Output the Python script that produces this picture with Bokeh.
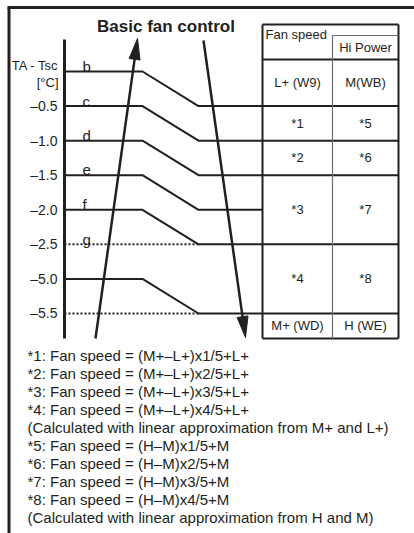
import numpy as np
from bokeh.plotting import figure
from bokeh.models import Range1d
from bokeh.core.properties import value
from bokeh.embed import file_html
from bokeh.resources import INLINE

# ---------------- data ----------------
level_letters = ["b", "c", "d", "e", "f", "g", "", ""]
tick_labels = ["", "–0.5", "–1.0", "–1.5", "–2.0", "–2.5", "–5.0", "–5.5"]
dotted_levels = [5, 7]                 # levels drawn dotted (no step)
drop_levels = [0, 1, 2, 3, 4, 6]       # level i steps down to level i+1
row_bounds = [1, 2, 3, 5, 7]           # levels that are also table row lines
col1_labels = ["L+ (W9)", "*1", "*2", "*3", "*4", "M+ (WD)"]
col2_labels = ["M(WB)", "*5", "*6", "*7", "*8", "H (WE)"]
footnotes = [
    "*1: Fan speed = (M+–L+)x1/5+L+",
    "*2: Fan speed = (M+–L+)x2/5+L+",
    "*3: Fan speed = (M+–L+)x3/5+L+",
    "*4: Fan speed = (M+–L+)x4/5+L+",
    "(Calculated with linear approximation from M+ and L+)",
    "*5: Fan speed = (H–M)x1/5+M",
    "*6: Fan speed = (H–M)x2/5+M",
    "*7: Fan speed = (H–M)x3/5+M",
    "*8: Fan speed = (H–M)x4/5+M",
    "(Calculated with linear approximation from H and M)",
]

# ---------------- layout ----------------
TOP_PX, STEP = 71.0, 34.57
def py(ys):
    return (ys - TOP_PX) / STEP

AXIS_X, KNEE1, KNEE2 = 64, 142, 198
TL, TM, TR = 262, 332, 398
T_TOP, T_HP, T_HEAD, T_BOT = py(24), py(35), py(59), py(338)
INK = "#231f20"
FONT = value("Liberation Sans")

p = figure(width=414, height=533, x_range=Range1d(0, 414),
           y_range=Range1d(py(533), py(0)), x_axis_type=None, y_axis_type=None,
           toolbar_location=None, output_backend="svg", min_border=0,
           outline_line_color=None)
p.grid.visible = False

# outer frame
p.line([8.5, 8.5], [py(7), py(533)], line_color=INK, line_width=3)
p.line([7, 414], [py(7), py(7)], line_color=INK, line_width=3)

# axis
p.line([AXIS_X, AXIS_X], [py(39), py(338)], line_color=INK, line_width=3)

# level step lines
xs, ys = [], []
for i in drop_levels:
    end = TR if (i + 1) in row_bounds else TL
    xs.append([AXIS_X, KNEE1, KNEE2, end])
    ys.append([i, i, i + 1, i + 1])
p.multi_line(xs, ys, line_color=INK, line_width=2)
for i in dotted_levels:
    p.line([AXIS_X, KNEE2], [i, i], line_color=INK, line_width=2, line_dash="2 2")

# tick labels
tk = [i for i, t in enumerate(tick_labels) if t]
p.text([AXIS_X - 7] * len(tk), tk, text=[tick_labels[i] for i in tk],
       text_align="right", text_baseline="middle", text_font=FONT,
       text_font_size="14px", text_color=INK)
p.text([AXIS_X - 6] * 2, [py(65), py(82)], text=["TA - Tsc", "[°C]"],
       text_align="right", text_baseline="middle", text_font=FONT,
       text_font_size="13px", text_color=INK)
lt = [i for i, t in enumerate(level_letters) if t]
p.text([82] * len(lt), [py(TOP_PX + STEP * i - 5) for i in lt],
       text=[level_letters[i] for i in lt],
       text_align="left", text_baseline="alphabetic", text_font=FONT,
       text_font_size="15px", text_color=INK)

# title
p.text([165.5], [py(26)], text=["Basic fan control"], text_align="center",
       text_baseline="middle", text_font=FONT, text_font_size="17px",
       text_font_style="bold", text_color=INK)

# table frame
p.multi_line([[TL, TL], [TR, TR], [TL, TR], [TL, TR], [TL, TR]],
             [[T_TOP, T_BOT], [T_TOP, T_BOT], [T_TOP, T_TOP], [T_HEAD, T_HEAD], [T_BOT, T_BOT]],
             line_color=INK, line_width=2)
p.multi_line([[TM, TM], [TM, TR]], [[T_HP, T_BOT], [T_HP, T_HP]],
             line_color="#6d6d6d", line_width=1.2)
p.text([TL + 3], [py(34)], text=["Fan speed"], text_align="left",
       text_baseline="middle", text_font=FONT, text_font_size="13px", text_color=INK)
p.text([(TM + TR) / 2], [(T_HP + T_HEAD) / 2], text=["Hi Power"], text_align="center",
       text_baseline="middle", text_font=FONT, text_font_size="13px", text_color=INK)
edges = [T_HEAD] + row_bounds + [T_BOT]
centers = [(edges[k] + edges[k + 1]) / 2 for k in range(len(edges) - 1)]
p.text([(TL + TM) / 2] * len(centers), centers, text=col1_labels, text_align="center",
       text_baseline="middle", text_font=FONT, text_font_size="13px", text_color=INK)
p.text([(TM + TR) / 2] * len(centers), centers, text=col2_labels, text_align="center",
       text_baseline="middle", text_font=FONT, text_font_size="13px", text_color=INK)

# arrows
def arrow(x0, y0, x1, y1, L=21, w=5.5):
    d = np.array([x1 - x0, y1 - y0], float)
    d /= np.hypot(*d)
    n = np.array([-d[1], d[0]])
    base = np.array([x1, y1]) - d * L
    p.line([x0, base[0] + d[0] * 2], [py(y0), py(base[1] + d[1] * 2)],
           line_color=INK, line_width=2.5)
    tri = [np.array([x1, y1]), base + n * w, base - n * w]
    p.patch([t[0] for t in tri], [py(t[1]) for t in tri],
            fill_color=INK, line_color=INK, line_width=1)

arrow(95, 338, 137, 38)
arrow(203, 40, 245, 337)

# footnotes
p.text([27] * len(footnotes), [py(355 + 18 * k) for k in range(len(footnotes))],
       text=footnotes, text_align="left", text_baseline="middle", text_font=FONT,
       text_font_size="15px", text_color=INK)

open("out.html", "w").write(file_html(p, INLINE))
